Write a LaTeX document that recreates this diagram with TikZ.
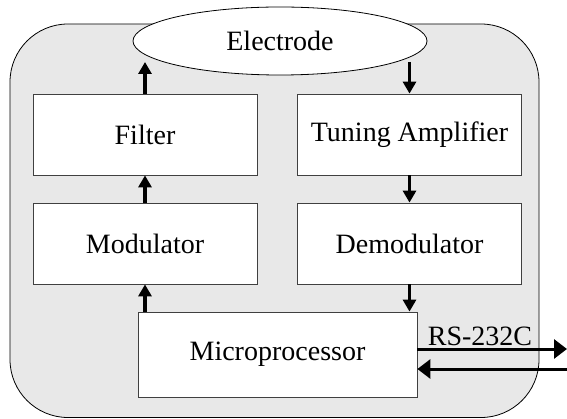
\documentclass[tikz,border=0pt]{standalone}
\usepackage{fontspec}
\setmainfont{Liberation Serif}
\usetikzlibrary{arrows.meta}
\usetikzlibrary{calc}
\usetikzlibrary{shapes.geometric}

\tikzset{
  blok/.style={draw=black!75, fill=white, line width=0.8pt, minimum width=224pt, minimum height=81pt, font=\fontsize{28}{32}\selectfont},
  pijl/.style={line width=3.5pt, -{Triangle[length=12pt,width=13pt]}},
  rspijl/.style={line width=3pt, -{Triangle[length=13pt,width=19pt]}},
}

\begin{document}
\begin{tikzpicture}[x=1pt,y=-1pt]
            \useasboundingbox (0,0) rectangle (567,419);
            \draw[fill=black!9, line width=0.8pt, rounded corners=58pt] (10,24) rectangle (539,417.5);

            \node[ellipse, draw=black, fill=white, line width=0.8pt, minimum width=294pt, minimum height=68pt, font=\fontsize{28}{32}\selectfont] (electrode) at (280,41) {Electrode};

            \node[blok] (filter) at (145,134.5) {Filter};
            \node[blok] (tuning) at (409.5,134.5) {Tuning Amplifier};
            \node[blok] (modulator) at (145,243.5) {Modulator};
            \node[blok] (demodulator) at (409.5,243.5) {Demodulator};
            \node[blok, minimum width=279pt, minimum height=85pt] (micro) at (277.5,354.5) {Microprocessor};

            \coordinate (eL) at (filter.north |- 0,62);
            \coordinate (eR) at (tuning.north |- 0,62);
            \draw[pijl] (filter.north) -- (eL);
            \draw[pijl] (eR) -- (tuning.north);
            \draw[pijl] (modulator.north) -- (filter.south);
            \draw[pijl] (tuning.south) -- (demodulator.north);
            \draw[pijl] (modulator.south |- micro.north) -- (modulator.south);
            \draw[pijl] (demodulator.south) -- (demodulator.south |- micro.north);

            \coordinate (outR) at (567,349);
            \coordinate (inR) at (567,369);
            \draw[rspijl] (micro.east |- outR) -- (outR);
            \draw[rspijl] (inR) -- (micro.east |- inR);
            \node[anchor=base, font=\fontsize{28}{32}\selectfont] (rs) at (480,345) {RS-232C};
        \end{tikzpicture}
\end{document}
